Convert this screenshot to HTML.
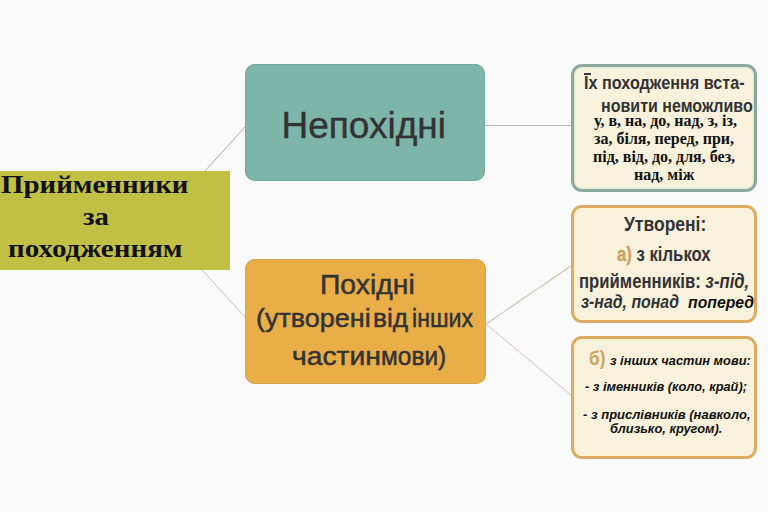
<!DOCTYPE html>
<html><head><meta charset="utf-8">
<style>
html,body{margin:0;padding:0;}
body{width:768px;height:512px;overflow:hidden;background:#fafafa;position:relative;font-family:"Liberation Sans",sans-serif;}
.a{position:absolute;white-space:pre;line-height:1;transform-origin:0 0;}
svg{position:absolute;left:0;top:0;}
.box{position:absolute;box-sizing:border-box;}
#olive{left:0;top:171px;width:230px;height:99px;background:#c1c045;}
#teal{left:245px;top:64px;width:240px;height:117px;background:#7db5a8;border-radius:10px;box-shadow:inset 0 0 0 1px #74a99b;}
#orange{left:245px;top:259px;width:241px;height:125px;background:#eaae48;border-radius:10px;box-shadow:inset 0 0 0 1px #d3a655;}
#b1{left:571px;top:64px;width:186px;height:128px;background:#f8f2dc;border:3px solid #8aa998;box-shadow:inset 0 0 1.5px 1px #d9e6d2;border-radius:11px;}
#b2{left:571px;top:205px;width:186px;height:118px;background:#f8f2dc;border:3px solid #dcaa62;box-shadow:inset 0 0 1.5px 1px #fdf3cc;border-radius:11px;}
#b3{left:571px;top:336px;width:186px;height:123px;background:#f8f2dc;border:3px solid #dcaa62;box-shadow:inset 0 0 1.5px 1px #fdf3cc;border-radius:11px;}
.ser{font-family:"Liberation Serif",serif;font-weight:700;color:#111;}
.dk{color:#333;}
.st{-webkit-text-stroke:0.5px currentColor;}
</style></head>
<body>
<svg width="768" height="512">
<line x1="205" y1="171" x2="245" y2="127" stroke="#a8a8a8" stroke-width="1"/>
<line x1="202" y1="270" x2="245" y2="317" stroke="#c9c1aa" stroke-width="1"/>
<line x1="485" y1="125.5" x2="571" y2="125.5" stroke="#b5b5b5" stroke-width="1.2"/>
<line x1="486" y1="324" x2="571" y2="266" stroke="#cdc4ab" stroke-width="1.1"/>
<line x1="486" y1="324" x2="572" y2="396" stroke="#cdc4ab" stroke-width="1"/>
</svg>
<div class="box" id="olive"></div>
<div class="box" id="teal"></div>
<div class="box" id="orange"></div>
<div class="box" id="b1"></div>
<div class="box" id="b2"></div>
<div class="box" id="b3"></div>

<!-- olive text -->
<div class="a ser" style="left:1px;top:171.5px;font-size:25px;transform:scaleX(1.155);">Прийменники</div>
<div class="a ser" style="left:83px;top:203.5px;font-size:25px;transform:scaleX(1.155);">за</div>
<div class="a ser" style="left:7.5px;top:235.5px;font-size:25px;transform:scaleX(1.16);">походженням</div>

<!-- teal text -->
<div class="a dk" style="left:281.5px;top:106.5px;font-size:37px;-webkit-text-stroke:0.4px #333;">Непохідні</div>

<!-- orange text -->
<div class="a dk st" style="left:319.5px;top:272px;font-size:27px;transform:scaleX(1.049);">Похідні</div>
<div class="a dk st" style="left:256px;top:305px;font-size:26px;transform:scaleX(1.037);">(утворені</div>
<div class="a dk st" style="left:373px;top:305px;font-size:26px;transform:scaleX(1.01);">від</div>
<div class="a dk st" style="left:412px;top:305px;font-size:26px;transform:scaleX(0.892);">інших</div>
<div class="a dk st" style="left:292px;top:343.3px;font-size:26px;transform:scaleX(1.087);">частин</div>
<div class="a dk st" style="left:381px;top:343.3px;font-size:26px;transform:scaleX(0.94);">мови)</div>

<!-- box1 -->
<div class="a dk" style="left:584px;top:74px;font-size:18px;font-weight:700;transform:scaleX(0.90);">Іх походження вста-</div>
<div style="position:absolute;left:583.5px;top:73px;width:7px;height:2.2px;background:#3a3a3a;"></div>
<div class="a dk" style="left:600.5px;top:97px;font-size:18px;font-weight:700;transform:scaleX(0.89);">новити неможливо</div>
<div class="a ser" style="left:594px;top:113px;font-size:16px;">у, в, на, до, над, з, із,</div>
<div class="a ser" style="left:594px;top:131px;font-size:16px;">за, біля, перед, при,</div>
<div class="a ser" style="left:593px;top:149px;font-size:16px;">під, від, до, для, без,</div>
<div class="a ser" style="left:634px;top:166.5px;font-size:16px;">над, між</div>

<!-- box2 -->
<div class="a dk" style="left:624px;top:213.5px;font-size:20px;font-weight:700;transform:scaleX(0.874);">Утворені:</div>
<div class="a dk" style="left:617px;top:244px;font-size:20px;font-weight:700;transform:scaleX(0.836);"><span style="color:#c9a45c;-webkit-text-stroke:0.4px #c9a45c;">а)</span> з кількох</div>
<div class="a dk" style="left:579px;top:270.5px;font-size:20px;font-weight:700;transform:scaleX(0.835);">прийменників: <i>з-під,</i></div>
<div class="a dk" style="left:581px;top:293px;font-size:18px;font-weight:700;font-style:italic;transform:scaleX(0.881);">з-над, понад</div>
<div class="a" style="left:687.5px;top:294.5px;font-size:16px;font-weight:700;font-style:italic;color:#111;transform:scaleX(0.987);">поперед</div>

<!-- box3 -->
<div class="a" style="left:589px;top:347px;font-size:21px;font-weight:700;color:#cda35e;transform:scaleX(0.82);">б)</div>
<div class="a" style="left:610px;top:354px;font-size:13px;font-weight:700;font-style:italic;color:#111;transform:scaleX(0.986);">з інших частин мови:</div>
<div class="a" style="left:585px;top:380px;font-size:13px;font-weight:700;font-style:italic;color:#111;transform:scaleX(0.986);">- з іменників (коло, край);</div>
<div class="a" style="left:583px;top:408px;font-size:13px;font-weight:700;font-style:italic;color:#111;">- з прислівників (навколо,</div>
<div class="a" style="left:610px;top:422px;font-size:13px;font-weight:700;font-style:italic;color:#111;transform:scaleX(0.99);">близько, кругом).</div>
</body></html>
